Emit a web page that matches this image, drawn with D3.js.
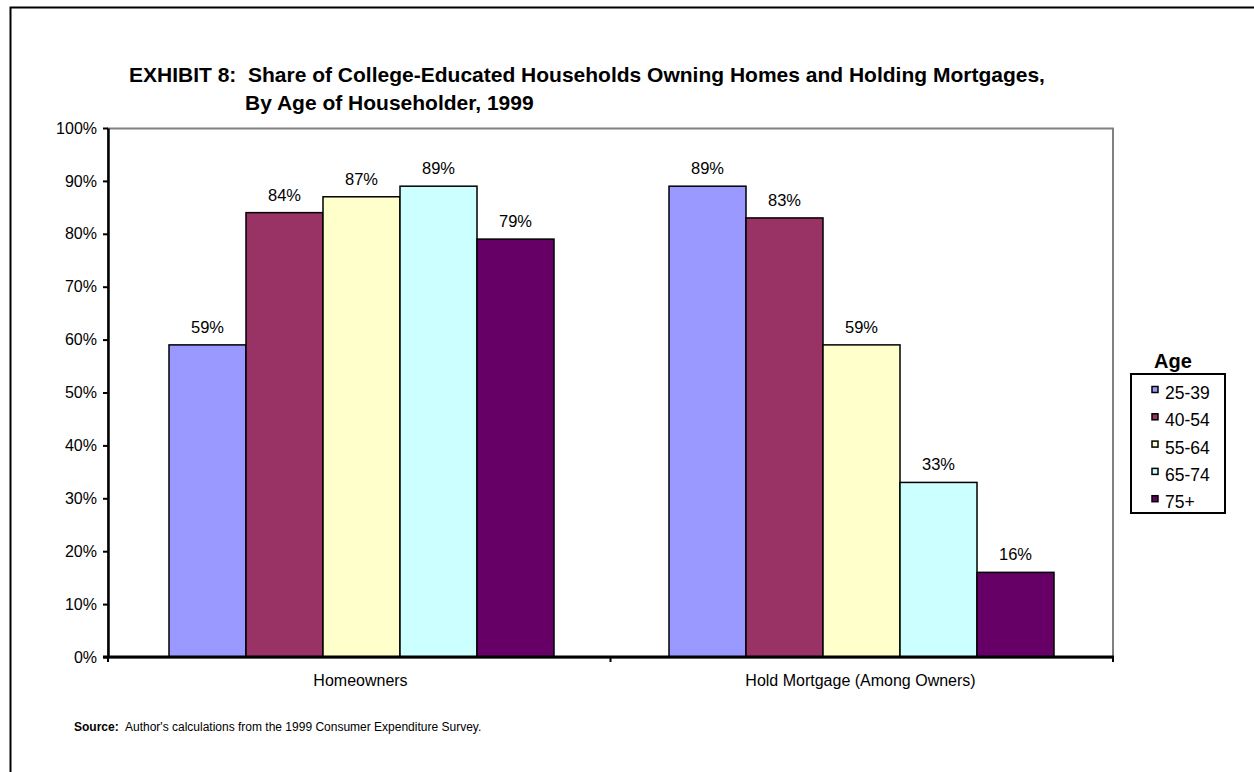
<!DOCTYPE html>
<html>
<head>
<meta charset="utf-8">
<script src="https://cdn.jsdelivr.net/npm/d3@7"></script>
<style>
  body { margin: 0; background: #fff; }
  text { font-family: "Liberation Sans", Arial, sans-serif; fill: #000; white-space: pre; }
</style>
</head>
<body>
<svg id="chart" width="1254" height="772"></svg>
<script>
// chart data
var categories = ["Homeowners", "Hold Mortgage (Among Owners)"];
var ageGroups = ["25-39", "40-54", "55-64", "65-74", "75+"];
var values = [
  [59, 84, 87, 89, 79],   // Homeowners
  [89, 83, 59, 33, 16]    // Hold Mortgage
];
var yTicks = [0, 10, 20, 30, 40, 50, 60, 70, 80, 90, 100];
var colors = ["#9999FF", "#993366", "#FFFFCC", "#CCFFFF", "#660066"];

var svg = d3.select("#chart");

// outer frame (cropped on right/bottom)
svg.append("rect")
  .attr("x", 10.5).attr("y", 7.5)
  .attr("width", 1300).attr("height", 800)
  .attr("fill", "none").attr("stroke", "#000").attr("stroke-width", 2);

var plot = {left: 108, top: 128, right: 1113, bottom: 657};

var x0 = d3.scaleBand()
  .domain(categories)
  .range([plot.left, plot.right])
  .paddingInner(0.23)
  .paddingOuter(0.12);

var x1 = d3.scaleBand()
  .domain(ageGroups)
  .range([0, x0.bandwidth()]);

var y = d3.scaleLinear()
  .domain([0, 100])
  .range([plot.bottom, plot.top]);

// plot area border (gray)
svg.append("rect")
  .attr("x", plot.left).attr("y", plot.top + 0.5)
  .attr("width", plot.right - plot.left).attr("height", plot.bottom - plot.top)
  .attr("fill", "none").attr("stroke", "#808080").attr("stroke-width", 2);

// bars
var groups = svg.append("g").selectAll("g")
  .data(categories)
  .join("g")
  .attr("transform", function(d) { return "translate(" + (x0(d) + 1) + ",0)"; });

groups.selectAll("rect")
  .data(function(d, i) { return values[i].map(function(v, j) { return {age: ageGroups[j], v: v, c: colors[j]}; }); })
  .join("rect")
  .attr("x", function(d) { return x1(d.age); })
  .attr("y", function(d) { return y(d.v); })
  .attr("width", x1.bandwidth())
  .attr("height", function(d) { return y(0) - y(d.v); })
  .attr("fill", function(d) { return d.c; })
  .attr("stroke", "#000").attr("stroke-width", 1.5);

groups.selectAll("text")
  .data(function(d, i) { return values[i].map(function(v, j) { return {age: ageGroups[j], v: v}; }); })
  .join("text")
  .attr("x", function(d) { return x1(d.age) + x1.bandwidth() / 2; })
  .attr("y", function(d) { return y(d.v) - 12; })
  .attr("text-anchor", "middle")
  .style("font-size", "16.5px")
  .text(function(d) { return d.v + "%"; });

// y axis
var yAxis = svg.append("g")
  .attr("transform", "translate(" + plot.left + ",0)")
  .call(d3.axisLeft(y).tickValues(yTicks).tickSize(5).tickSizeOuter(0)
    .tickFormat(function(d) { return d + "%"; }));
yAxis.select(".domain").attr("stroke", "#000").attr("stroke-width", 2.5);
yAxis.selectAll(".tick line").attr("stroke", "#000").attr("stroke-width", 2);
yAxis.selectAll(".tick text").attr("x", -11).style("font-size", "16px")
  .style("font-family", "'Liberation Sans', Arial, sans-serif").attr("fill", "#000");

// x axis
var xAxis = svg.append("g")
  .attr("transform", "translate(0," + plot.bottom + ")");
xAxis.append("line")
  .attr("x1", plot.left - 5).attr("x2", plot.right + 1)
  .attr("stroke", "#000").attr("stroke-width", 3);
var divs = [plot.left, (plot.left + plot.right) / 2, plot.right];
xAxis.selectAll("line.div")
  .data(divs)
  .join("line")
  .attr("class", "div")
  .attr("x1", function(d) { return d; }).attr("x2", function(d) { return d; })
  .attr("y1", 0).attr("y2", 5)
  .attr("stroke", "#000").attr("stroke-width", 2);
xAxis.selectAll("text")
  .data(categories)
  .join("text")
  .attr("x", function(d) { return x0(d) + x0.bandwidth() / 2; })
  .attr("y", 29)
  .attr("text-anchor", "middle")
  .style("font-size", "16px")
  .text(function(d) { return d; });

// title
svg.append("text")
  .attr("x", 129).attr("y", 82)
  .style("font-size", "21px").style("font-weight", "bold")
  .text("EXHIBIT 8:  Share of College-Educated Households Owning Homes and Holding Mortgages,");
svg.append("text")
  .attr("x", 245).attr("y", 110)
  .style("font-size", "21px").style("font-weight", "bold")
  .text("By Age of Householder, 1999");

// legend
var lg = svg.append("g");
lg.append("text")
  .attr("x", 1154).attr("y", 368)
  .style("font-size", "20px").style("font-weight", "bold")
  .text("Age");
lg.append("rect")
  .attr("x", 1131).attr("y", 374)
  .attr("width", 94).attr("height", 139)
  .attr("fill", "#fff").attr("stroke", "#000").attr("stroke-width", 2);
var items = lg.selectAll("g.item")
  .data(ageGroups)
  .join("g")
  .attr("class", "item")
  .attr("transform", function(d, i) { return "translate(0," + (399 + i * 27.3) + ")"; });
items.append("rect")
  .attr("x", 1152).attr("y", -12.5)
  .attr("width", 6).attr("height", 6)
  .attr("fill", function(d, i) { return colors[i]; })
  .attr("stroke", "#000").attr("stroke-width", 1.5);
items.append("text")
  .attr("x", 1165).attr("y", 0)
  .style("font-size", "17.5px")
  .text(function(d) { return d; });

// source
svg.append("text")
  .attr("x", 74).attr("y", 731)
  .style("font-size", "12px")
  .html('<tspan font-weight="bold">Source:</tspan><tspan x="125">Author\'s calculations from the 1999 Consumer Expenditure Survey.</tspan>');
</script>
</body>
</html>
